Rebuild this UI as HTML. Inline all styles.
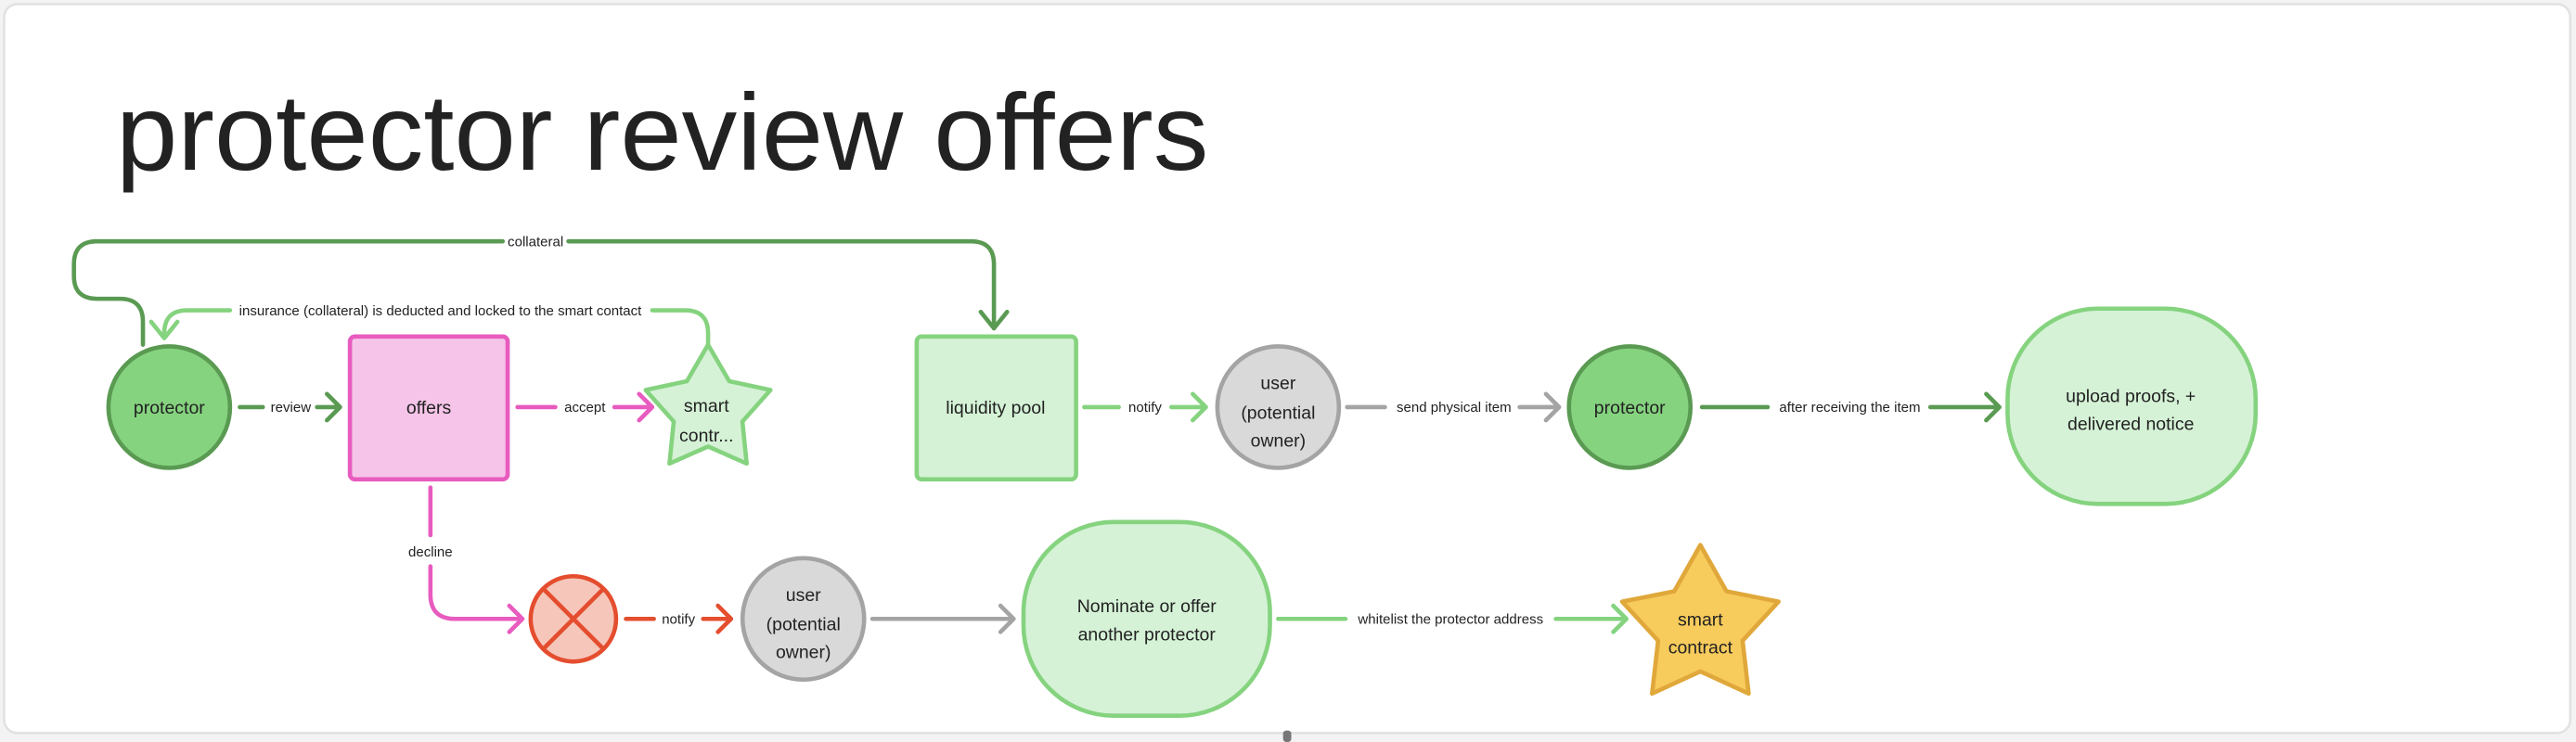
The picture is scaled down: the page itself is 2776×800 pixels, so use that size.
<!DOCTYPE html>
<html><head><meta charset="utf-8"><style>
html,body{margin:0;padding:0;background:#f3f3f3;width:2776px;height:800px;overflow:hidden}
svg{display:block}
text{font-family:"Liberation Sans",sans-serif;fill:#222}
</style></head><body>
<svg width="2776" height="800" viewBox="0 0 1568 452" preserveAspectRatio="none" xmlns="http://www.w3.org/2000/svg">
<rect x="2.5" y="2.5" width="1562" height="444" rx="8" fill="#fff" stroke="#e2e2e2" stroke-width="1.5"/>
<text x="70.6" y="103.4" font-size="66" textLength="665" lengthAdjust="spacingAndGlyphs">protector review offers</text>
<g fill="none" stroke-width="2.6" stroke-linecap="round" stroke-linejoin="round">
<path d="M87 210 V196 Q87 182 73 182 H59 Q45 182 45 168 V161 Q45 147 59 147 H306 M346 147 H591 Q605 147 605 161 V200" stroke="#5a9a52"/>
<path d="M597 190 L605 200 L613 190" stroke="#5a9a52"/>
<path d="M431 210 V203 Q431 189 417 189 H397 M140 189 H114 Q100 189 100 203 V205" stroke="#85d37f"/>
<path d="M92 196 L100 206 L108 196" stroke="#85d37f"/>
<path d="M146 248 H160 M193 248 H207 M199 240 L207 248 L199 256" stroke="#5a9a52"/>
<path d="M315 248 H338 M374 248 H397 M389 240 L397 248 L389 256" stroke="#e85bbf"/>
<path d="M262 297 V326 M262 345 V362 Q262 377 277 377 H318 M310 369 L318 377 L310 385" stroke="#e85bbf"/>
<path d="M381 377 H398 M428 377 H445 M437 369 L445 377 L437 385" stroke="#e44d2e"/>
<path d="M531 377 H617 M609 369 L617 377 L609 385" stroke="#a4a4a4"/>
<path d="M778 377 H819 M947 377 H990 M982 369 L990 377 L982 385" stroke="#85d37f"/>
<path d="M660 248 H681 M713 248 H734 M726 240 L734 248 L726 256" stroke="#85d37f"/>
<path d="M820 248 H843 M925 248 H949 M941 240 L949 248 L941 256" stroke="#a4a4a4"/>
<path d="M1036 248 H1076 M1175 248 H1217 M1209 240 L1217 248 L1209 256" stroke="#5a9a52"/>
</g>
<g font-size="8.5" text-anchor="middle">
<text x="326" y="150">collateral</text>
<text x="268" y="192">insurance (collateral) is deducted and locked to the smart contact</text>
<text x="177" y="251">review</text>
<text x="356" y="251">accept</text>
<text x="262" y="339">decline</text>
<text x="413" y="380">notify</text>
<text x="883" y="380">whitelist the protector address</text>
<text x="697" y="251">notify</text>
<text x="885" y="251">send physical item</text>
<text x="1126" y="251">after receiving the item</text>
</g>
<g stroke-width="2.6" stroke-linejoin="round">
<circle cx="103" cy="248" r="37" fill="#85d37f" stroke="#5a9a52"/>
<rect x="213" y="205" width="96" height="87" rx="3" fill="#f5c4e8" stroke="#e85bbf"/>
<polygon points="431,210 443.9,232.2 469,237.6 451.9,256.8 454.5,282.4 431,272 407.5,282.4 410.1,256.8 393,237.6 418.1,232.2" fill="#d5f2d6" stroke="#85d37f"/>
<rect x="558" y="205" width="97" height="87" rx="3" fill="#d5f2d6" stroke="#85d37f"/>
<circle cx="778" cy="248" r="37" fill="#d9d9d9" stroke="#a4a4a4"/>
<circle cx="992" cy="248" r="37" fill="#85d37f" stroke="#5a9a52"/>
<rect x="1222" y="188" width="151" height="119" rx="55" fill="#d5f2d6" stroke="#85d37f"/>
<circle cx="349" cy="377" r="26" fill="#f6c6bb" stroke="#e44d2e"/>
<path d="M331 359 L367 395 M367 359 L331 395" stroke="#e44d2e" fill="none"/>
<circle cx="489" cy="377" r="37" fill="#d9d9d9" stroke="#a4a4a4"/>
<rect x="623" y="318" width="150" height="118" rx="55" fill="#d5f2d6" stroke="#85d37f"/>
<polygon points="1035,332 1050.9,360.2 1082.6,366.5 1060.7,390.3 1064.4,422.5 1035,409 1005.6,422.5 1009.3,390.3 987.4,366.5 1019.1,360.2" fill="#f7cb5c" stroke="#e0a83a"/>
</g>
<g font-size="11" text-anchor="middle">
<text x="103" y="252">protector</text>
<text x="261" y="252">offers</text>
<text x="430" y="251">smart</text>
<text x="430" y="269">contr...</text>
<text x="606" y="252">liquidity pool</text>
<text x="778" y="237">user</text>
<text x="778" y="255">(potential</text>
<text x="778" y="272">owner)</text>
<text x="992" y="252">protector</text>
<text x="1297" y="245">upload proofs, +</text>
<text x="1297" y="262">delivered notice</text>
<text x="489" y="366">user</text>
<text x="489" y="384">(potential</text>
<text x="489" y="401">owner)</text>
<text x="698" y="373">Nominate or offer</text>
<text x="698" y="390">another protector</text>
<text x="1035" y="381">smart</text>
<text x="1035" y="398">contract</text>
</g>
<rect x="781" y="445" width="5" height="7" rx="2" fill="#777"/>
</svg>
</body></html>
